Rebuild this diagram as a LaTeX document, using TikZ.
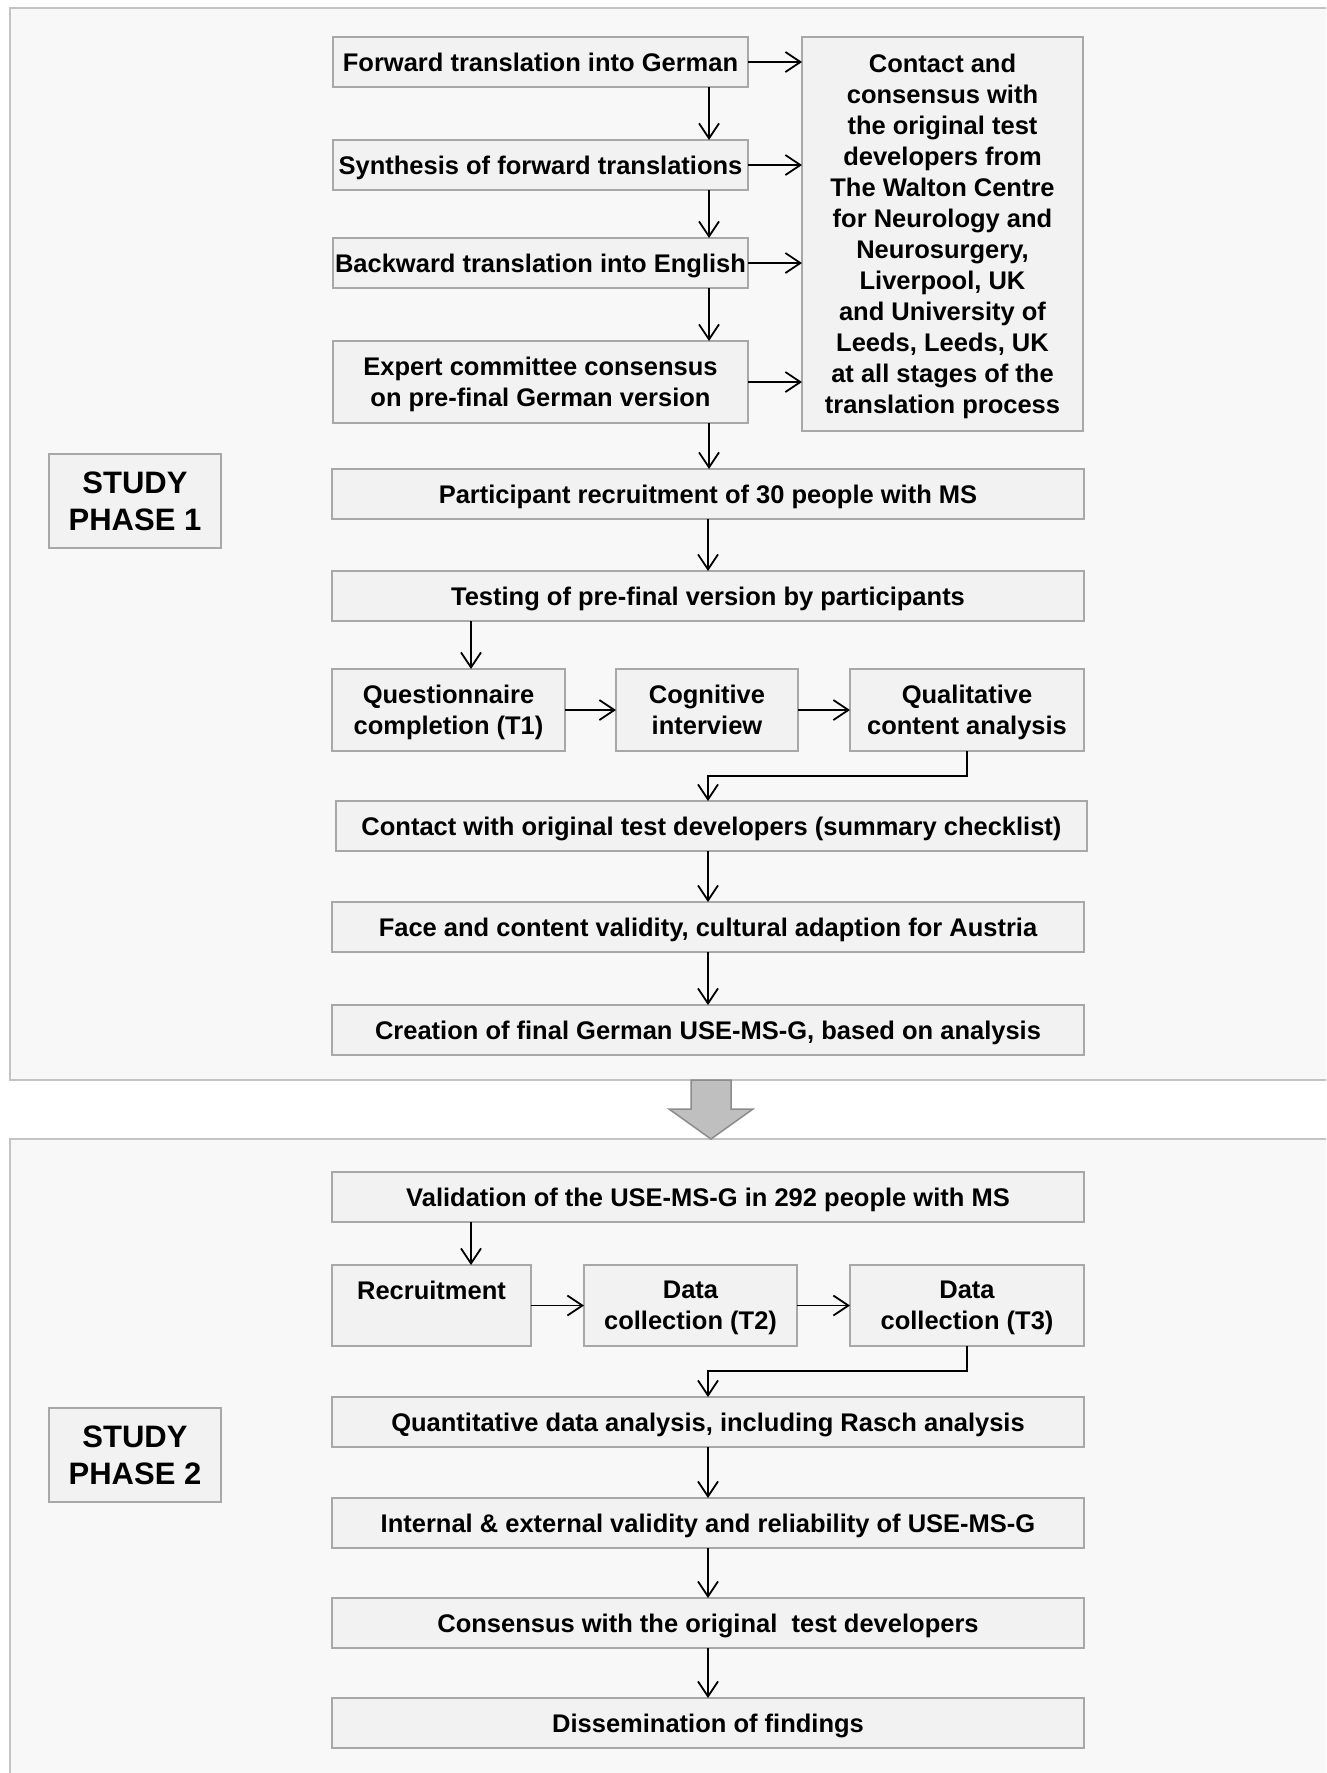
\documentclass[tikz,border=0pt]{standalone}
\usepackage{fontspec}
\setmainfont{Liberation Sans}
\usepackage{xcolor}
\usetikzlibrary{arrows.meta, positioning}
\definecolor{panelfill}{HTML}{F8F8F8}
\definecolor{panelline}{HTML}{C4C4C4}
\definecolor{boxfill}{HTML}{F2F2F2}
\definecolor{boxline}{HTML}{A8A8A8}
\definecolor{bigarrow}{HTML}{BFBFBF}
\definecolor{bigarrowline}{HTML}{8C8C8C}
\tikzstyle{stepbox} = [rectangle, draw=boxline, line width=1.5pt, fill=boxfill, anchor=north west, inner sep=1pt, outer sep=0pt, text depth=0pt, align=center, text centered, font=\fontsize{25.5}{31}\selectfont\bfseries]
\tikzstyle{phasebox} = [stepbox, minimum width=172pt, minimum height=94pt, font=\fontsize{31}{37}\selectfont\bfseries]
\tikzstyle{panel} = [draw=panelline, line width=1.5pt, fill=panelfill]
\tikzstyle{arrow} = [line width=1.8pt, -{Straight Barb[length=15pt, width=20pt, line width=1.8pt]}]

\begin{document}
\begin{tikzpicture}[x=1pt, y=-1pt]
        \useasboundingbox (0,0) rectangle (1326,1773);
        \clip (0,0) rectangle (1326,1773);
        % Panels
        \draw [panel] (10,8) rectangle (1340,1080);
        \draw [panel] (10,1139) rectangle (1340,1790);
        \draw [line width=1.5pt, draw=bigarrowline, fill=bigarrow]
            (691,1080) -- (731,1080) -- (731,1109) -- (753,1109) -- (711,1139)
            -- (669,1109) -- (691,1109) -- cycle;

        % Columns for the arrows
        \coordinate (col) at (708,0);
        \coordinate (coltr) at (709,0);
        \coordinate (colq) at (471,0);

        % Study phase 1
        \node (phaseA) [phasebox] at (49,454) {STUDY\\PHASE 1};
        \node (fwd) [stepbox, minimum width=415pt, minimum height=50pt] at (333,37) {Forward translation into German};
        \node (synth) [stepbox, minimum width=415pt, minimum height=50pt] at (333,140) {Synthesis of forward translations};
        \node (bwd) [stepbox, minimum width=415pt, minimum height=50pt] at (333,238) {Backward translation into English};
        \node (expert) [stepbox, minimum width=415pt, minimum height=82pt] at (333,341) {Expert committee consensus\\on pre-final German version};
        \node (contact) [stepbox, minimum width=281pt, minimum height=394pt] at (802,37) {Contact and\\consensus with\\the original test\\developers from\\The Walton Centre\\for Neurology and\\Neurosurgery,\\Liverpool, UK\\and University of\\Leeds, Leeds, UK\\at all stages of the\\translation process};
        \node (people) [stepbox, minimum width=752pt, minimum height=50pt] at (332,469) {Participant recruitment of 30 people with MS};
        \node (testing) [stepbox, minimum width=752pt, minimum height=50pt] at (332,571) {Testing of pre-final version by participants};
        \node (quest) [stepbox, minimum width=233pt, minimum height=82pt] at (332,669) {Questionnaire\\completion (T1)};
        \node (cogn) [stepbox, minimum width=182pt, minimum height=82pt] at (616,669) {Cognitive\\interview};
        \node (qual) [stepbox, minimum width=234pt, minimum height=82pt] at (850,669) {Qualitative\\content analysis};
        \node (checklist) [stepbox, minimum width=751pt, minimum height=50pt] at (336,801) {Contact with original test developers (summary checklist)};
        \node (validity) [stepbox, minimum width=752pt, minimum height=50pt] at (332,902) {Face and content validity, cultural adaption for Austria};
        \node (final) [stepbox, minimum width=752pt, minimum height=50pt] at (332,1005) {Creation of final German USE-MS-G, based on analysis};

        % Study phase 2
        \node (phaseB) [phasebox] at (49,1408) {STUDY\\PHASE 2};
        \node (validation) [stepbox, minimum width=752pt, minimum height=50pt] at (332,1172) {Validation of the USE-MS-G in 292 people with MS};
        \node (recruit) [stepbox, minimum width=199pt, minimum height=81pt] at (332,1265) {Recruitment\\\mbox{}};
        \node (dataA) [stepbox, minimum width=213pt, minimum height=81pt] at (584,1265) {Data\\collection (T2)};
        \node (dataB) [stepbox, minimum width=234pt, minimum height=81pt] at (850,1265) {Data\\collection (T3)};
        \node (quant) [stepbox, minimum width=752pt, minimum height=50pt] at (332,1397) {Quantitative data analysis, including Rasch analysis};
        \node (reliab) [stepbox, minimum width=752pt, minimum height=50pt] at (332,1498) {Internal \& external validity and reliability of USE-MS-G};
        \node (consens) [stepbox, minimum width=752pt, minimum height=50pt] at (332,1598) {Consensus with the original~ test developers};
        \node (dissem) [stepbox, minimum width=752pt, minimum height=50pt] at (332,1698) {Dissemination of findings};

        % Arrows phase 1
        \draw [arrow] (fwd.south -| coltr) -- (synth.north -| coltr);
        \draw [arrow] (synth.south -| coltr) -- (bwd.north -| coltr);
        \draw [arrow] (bwd.south -| coltr) -- (expert.north -| coltr);
        \draw [arrow] (fwd.east) -- (fwd.east -| contact.west);
        \draw [arrow] (synth.east) -- (synth.east -| contact.west);
        \draw [arrow] (bwd.east) -- (bwd.east -| contact.west);
        \draw [arrow] (expert.east) -- (expert.east -| contact.west);
        \draw [arrow] (expert.south -| coltr) -- (people.north -| coltr);
        \draw [arrow] (people.south -| col) -- (testing.north -| col);
        \draw [arrow] (testing.south -| colq) -- (quest.north -| colq);
        \draw [arrow] (quest) -- (cogn);
        \draw [arrow] (cogn) -- (qual);
        \draw [arrow] (qual.south) -- ++(0,25) -| (checklist.north -| col);
        \draw [arrow] (checklist.south -| col) -- (validity.north -| col);
        \draw [arrow] (validity.south -| col) -- (final.north -| col);

        % Arrows phase 2
        \draw [arrow] (validation.south -| colq) -- (recruit.north -| colq);
        \draw [arrow] (recruit) -- (dataA);
        \draw [arrow] (dataA) -- (dataB);
        \draw [arrow] (dataB.south) -- ++(0,25) -| (quant.north -| col);
        \draw [arrow] (quant.south -| col) -- (reliab.north -| col);
        \draw [arrow] (reliab.south -| col) -- (consens.north -| col);
        \draw [arrow] (consens.south -| col) -- (dissem.north -| col);
    \end{tikzpicture}
\end{document}
